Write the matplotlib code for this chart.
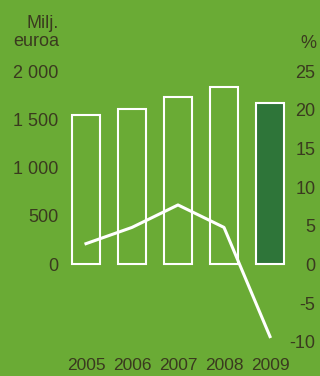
import matplotlib.pyplot as plt

years = ['2005', '2006', '2007', '2008', '2009']
sales = [1540, 1610, 1735, 1830, 1665]       # milj. euroa
growth = [2.7, 4.8, 7.7, 4.8, -9.3]          # %
left_ticks = [0, 500, 1000, 1500, 2000]
left_labels = ['0', '500', '1 000', '1 500', '2 000']
right_ticks = [-10, -5, 0, 5, 10, 15, 20, 25]

bg = '#6aab35'
dark = '#2e7539'
txt = '#3a3a1f'

plt.rcParams['font.family'] = ['Liberation Sans', 'DejaVu Sans']

W, H = 320, 376
fig = plt.figure(figsize=(W / 100, H / 100), dpi=100, facecolor=bg)

# axes box in pixels: x 60..296, y 71..342
ax = fig.add_axes([60 / W, 1 - 342 / H, 236 / W, 271 / H])
ax.set_facecolor(bg)
ax2 = ax.twinx()

x = list(range(len(years)))
fills = [bg, bg, bg, bg, dark]
ax.bar(x, sales, width=0.61, color=fills, edgecolor='white', linewidth=1.5, zorder=2)
ax.set_xlim(-0.565, 4.565)
ax.set_ylim(-808, 2000)

ax2.plot(x, growth, color='white', linewidth=2.2, zorder=3)
ax2.set_ylim(-10, 25)

for a in (ax, ax2):
    for s in a.spines.values():
        s.set_visible(False)
    a.tick_params(length=0, colors=txt, labelsize=13)

ax.set_yticks(left_ticks)
ax.set_yticklabels(left_labels)
ax.tick_params(axis='y', pad=1)
ax2.set_yticks(right_ticks)
ax2.set_yticklabels([str(t) for t in right_ticks], ha='right')
ax2.tick_params(axis='y', pad=14)

ax.set_xticks([])
for i, y in enumerate(years):
    ax.text(i, -1050, y, ha='center', va='center', fontsize=12.5, color=txt)

fig.text(59 / W, 1 - 50 / H, 'Milj.\neuroa', ha='right', va='bottom',
         fontsize=13, color=txt, linespacing=1.1)
fig.text(316 / W, 1 - 43 / H, '%', ha='right', va='center', fontsize=13, color=txt)

fig.savefig('out.png', dpi=100, facecolor=bg)
